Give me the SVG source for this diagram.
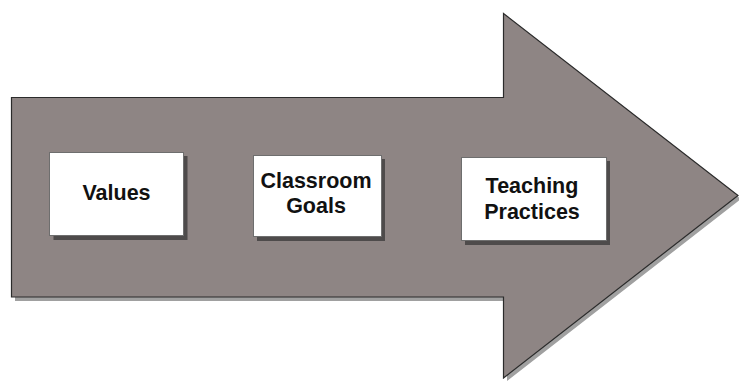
<svg xmlns="http://www.w3.org/2000/svg" width="739" height="381" viewBox="0 0 739 381">
<style>
.arrow{fill:#8e8584;stroke:#2b2b2b;stroke-width:1.2}
.ashadow{fill:#a0a0a0}
.shadow{fill:#4e4b4b}
.box{fill:#ffffff;stroke:#6e6e6e;stroke-width:1}
.lbl{font-family:"Liberation Sans",Arial,sans-serif;font-weight:bold;font-size:21.5px;fill:#111;text-anchor:middle}
</style>
<rect width="739" height="381" fill="#ffffff"/>
<g id="arrow">
<path class="ashadow" d="M15,101 H507 V17 L741,199 L507,381 V301 H15 Z"/>
<path class="arrow" d="M11.5,97.5 H503.5 V13.5 L738,195.5 L503.5,378 V297 H11.5 Z"/>
</g>
<g id="values">
<rect class="shadow" x="53.5" y="156" width="134" height="84"/>
<rect class="box" x="49.5" y="152.5" width="134" height="83"/>
<text class="lbl" x="116.5" y="200">Values</text>
</g>
<g id="classroom-goals">
<rect class="shadow" x="257" y="159" width="128" height="82"/>
<rect class="box" x="253.5" y="155.5" width="128" height="81"/>
<text class="lbl" x="316" y="188">Classroom</text>
<text class="lbl" x="316" y="213">Goals</text>
</g>
<g id="teaching-practices">
<rect class="shadow" x="465" y="161" width="145" height="84"/>
<rect class="box" x="461.5" y="157.5" width="145" height="83"/>
<text class="lbl" x="532" y="193">Teaching</text>
<text class="lbl" x="532" y="219">Practices</text>
</g>
<g id="connectors"></g>
</svg>
